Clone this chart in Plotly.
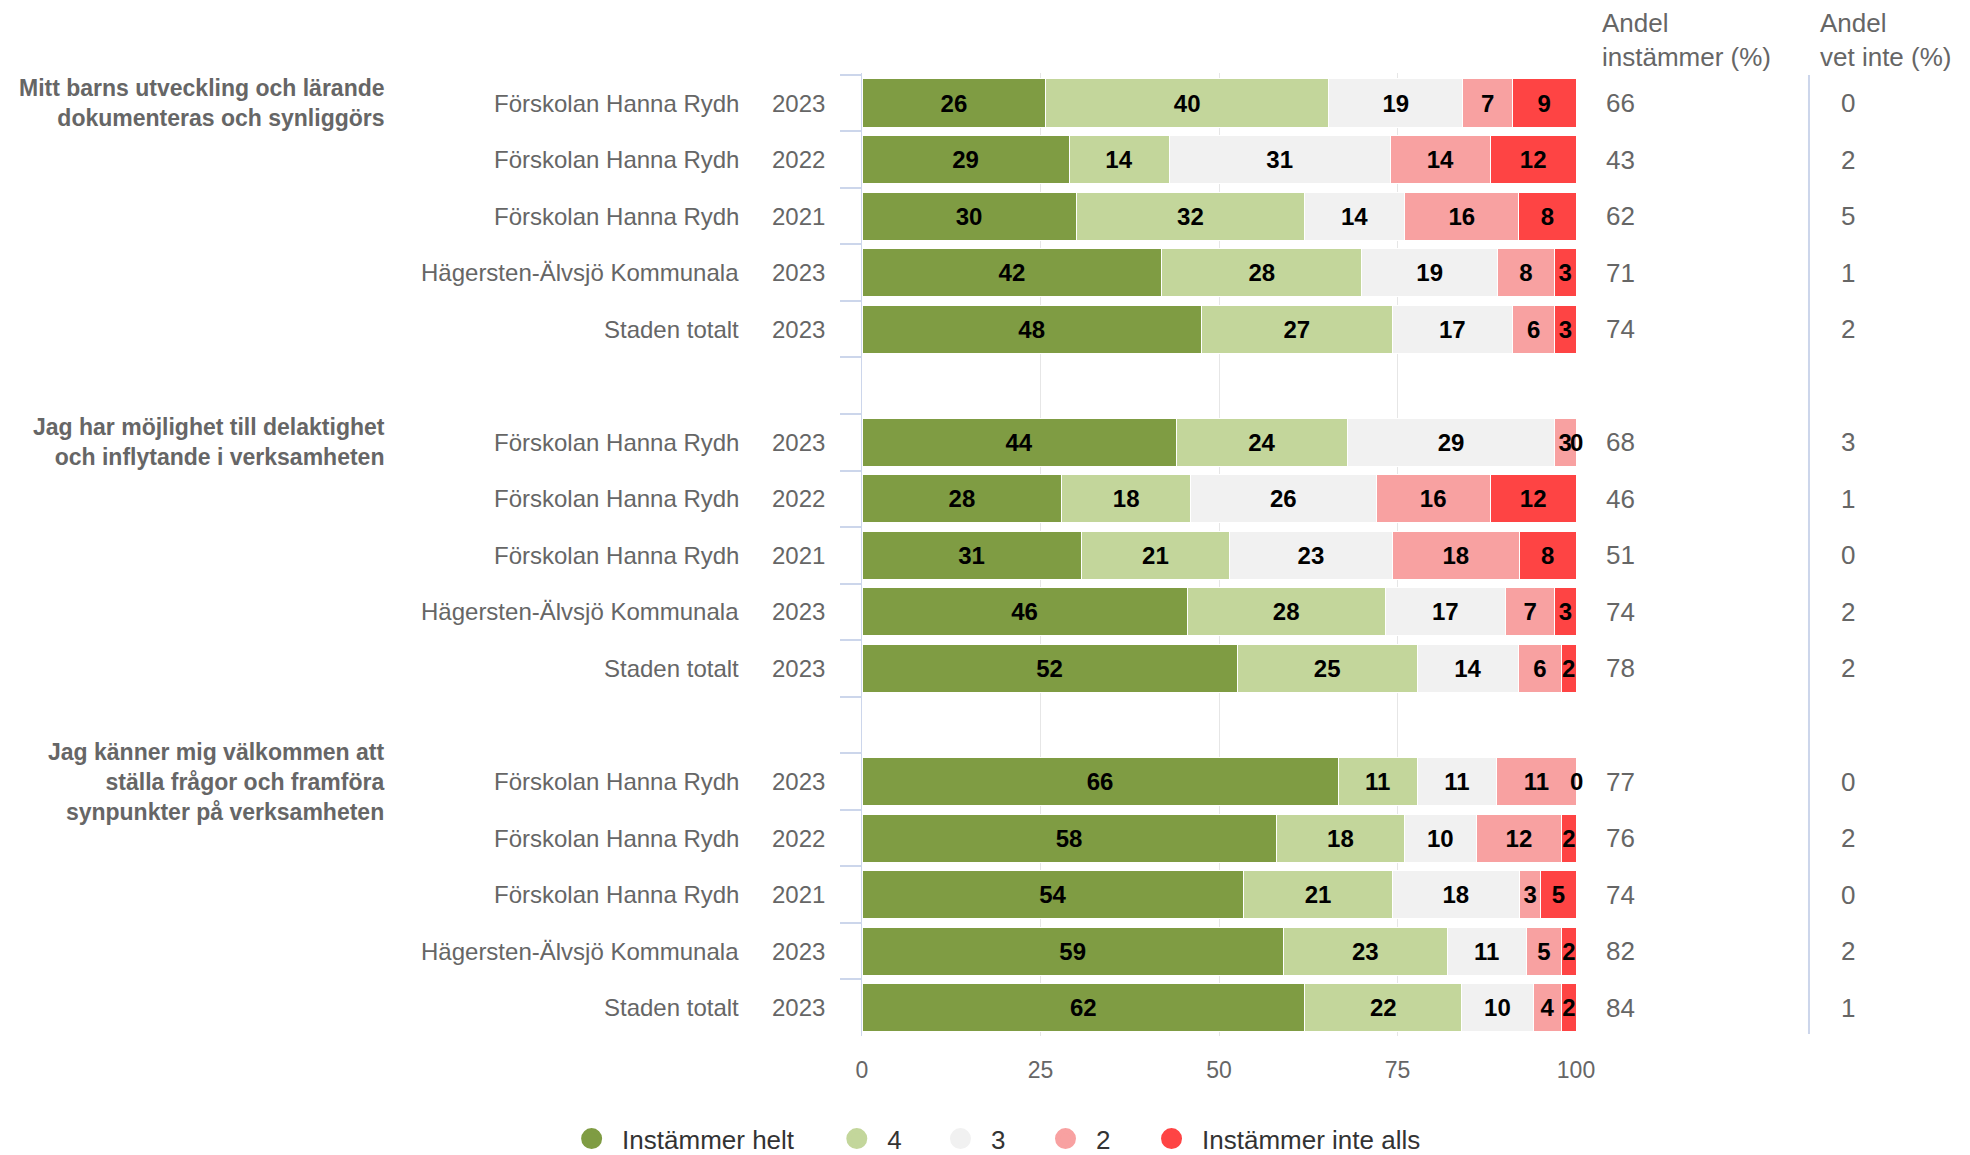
import plotly.graph_objects as go

# survey questions (group labels) and the rows under each question
questions = [
    "Mitt barns utveckling och lärande<br>dokumenteras och synliggörs",
    "Jag har möjlighet till delaktighet<br>och inflytande i verksamheten",
    "Jag känner mig välkommen att<br>ställa frågor och framföra<br>synpunkter på verksamheten",
]
units = [
    "Förskolan Hanna Rydh",
    "Förskolan Hanna Rydh",
    "Förskolan Hanna Rydh",
    "Hägersten-Älvsjö Kommunala",
    "Staden totalt",
]
years = ["2023", "2022", "2021", "2023", "2023"]

# answer shares (%) per row, question by question
helt = [26, 29, 30, 42, 48, 44, 28, 31, 46, 52, 66, 58, 54, 59, 62]
fyra = [40, 14, 32, 28, 27, 24, 18, 21, 28, 25, 11, 18, 21, 23, 22]
tre = [19, 31, 14, 19, 17, 29, 26, 23, 17, 14, 11, 10, 18, 11, 10]
tva = [7, 14, 16, 8, 6, 3, 16, 18, 7, 6, 11, 12, 3, 5, 4]
inte_alls = [9, 12, 8, 3, 3, 0, 12, 8, 3, 2, 0, 2, 5, 2, 2]

andel_instammer = [66, 43, 62, 71, 74, 68, 46, 51, 74, 78, 77, 76, 74, 82, 84]
andel_vet_inte = [0, 2, 5, 1, 2, 3, 1, 0, 2, 2, 0, 2, 0, 2, 1]

series = [
    ("Instämmer helt", helt, "#7f9c43"),
    ("4", fyra, "#c3d69b"),
    ("3", tre, "#f1f1f1"),
    ("2", tva, "#f8a1a1"),
    ("Instämmer inte alls", inte_alls, "#fe4444"),
]

FONT = "Liberation Sans, Arial, sans-serif"
GREY = "#666666"

# category keys, with an empty row between the questions
row_keys = []
for q in range(len(questions)):
    for r in range(len(units)):
        row_keys.append(f"q{q}r{r}")
    if q < len(questions) - 1:
        row_keys.append(f"gap{q}")


def spread(values):
    # put values on the row keys, blank for the gap rows
    lookup = {f"q{i // 5}r{i % 5}": v for i, v in enumerate(values)}
    return [lookup.get(k) for k in row_keys]


fig = go.Figure()

for name, values, color in series:
    xs = spread(values)
    fig.add_trace(
        go.Bar(
            x=xs,
            y=row_keys,
            orientation="h",
            name=name,
            legendgroup=name,
            marker={"color": color, "line": {"color": "white", "width": 1}},
            text=["" if v is None else str(v) for v in xs],
            textposition="inside",
            insidetextanchor="middle",
            constraintext="none",
            textangle=0,
            textfont={"family": FONT, "size": 24, "color": "black", "weight": "bold"},
            showlegend=False,
            hovertemplate=name + ": %{text}<extra></extra>",
        )
    )

# legend entries with round symbols, one small legend per entry so the
# spacing between them can follow the original
legend_ids = ["legend", "legend2", "legend3", "legend4", "legend5"]
legend_x = [-0.4214, -0.050, 0.0952, 0.2423, 0.3908]
for (name, values, color), lid in zip(series, legend_ids):
    fig.add_trace(
        go.Scatter(
            x=[None],
            y=[None],
            mode="markers",
            name=name,
            legendgroup=name,
            legend=lid,
            marker={"color": color, "size": 22, "symbol": "circle",
                    "line": {"color": color, "width": 5}},
            showlegend=True,
        )
    )

annotations = []
for i in range(len(helt)):
    key = f"q{i // 5}r{i % 5}"
    annotations.append(
        dict(x=-0.1695, y=key, xref="paper", yref="y", text=units[i % 5],
             xanchor="right", yanchor="middle", showarrow=False,
             font={"family": FONT, "size": 24, "color": GREY})
    )
    annotations.append(
        dict(x=-0.049, y=key, xref="paper", yref="y", text=years[i % 5],
             xanchor="right", yanchor="middle", showarrow=False,
             font={"family": FONT, "size": 24, "color": GREY})
    )
    annotations.append(
        dict(x=1.063, y=key, xref="paper", yref="y", text=str(andel_instammer[i]),
             xanchor="center", yanchor="middle", showarrow=False,
             font={"family": FONT, "size": 26, "color": GREY})
    )
    annotations.append(
        dict(x=1.381, y=key, xref="paper", yref="y", text=str(andel_vet_inte[i]),
             xanchor="center", yanchor="middle", showarrow=False,
             font={"family": FONT, "size": 26, "color": GREY})
    )
    # zero-width segments still get their "0" label at the end of the bar
    if inte_alls[i] == 0:
        annotations.append(
            dict(x=100, y=key, xref="x", yref="y", text="<b>0</b>",
                 xanchor="center", yanchor="middle", showarrow=False,
                 font={"family": FONT, "size": 24, "color": "black"})
        )

for q, label in enumerate(questions):
    annotations.append(
        dict(x=-0.6653, y=f"q{q}r0", xref="paper", yref="y", text=f"<b>{label}</b>",
             xanchor="right", yanchor="middle", align="right", showarrow=False,
             font={"family": FONT, "size": 23, "color": GREY})
    )

for x, label in [(1.0336, "Andel<br>instämmer (%)"), (1.339, "Andel<br>vet inte (%)")]:
    annotations.append(
        dict(x=x, y=1.034, xref="paper", yref="paper", text=label,
             xanchor="left", yanchor="middle", align="left", showarrow=False,
             font={"family": FONT, "size": 26, "color": GREY})
    )

legend_layout = {}
for lid, lx in zip(legend_ids, legend_x):
    legend_layout[lid] = {
        "orientation": "h",
        "x": lx,
        "xanchor": "left",
        "y": -0.1066,
        "yanchor": "middle",
        "font": {"family": FONT, "size": 26, "color": "#333333"},
        "itemsizing": "trace",
        "itemwidth": 51,
        "bgcolor": "rgba(0,0,0,0)",
    }

# page body has an 8px margin, so the figure is 8px smaller on each side
fig.update_layout(
    barmode="stack",
    barnorm="percent",
    bargap=0.15,
    width=1962,
    height=1147,
    autosize=False,
    margin={"l": 854, "r": 394, "t": 65, "b": 119, "autoexpand": False},
    paper_bgcolor="white",
    plot_bgcolor="white",
    font={"family": FONT, "color": GREY},
    annotations=annotations,
    shapes=[
        dict(type="line", xref="paper", yref="paper", x0=1.3263, x1=1.3263,
             y0=0.002, y1=0.998, line={"color": "#ccd6eb", "width": 2})
    ],
    xaxis={
        "range": [0, 100],
        "tickvals": [0, 25, 50, 75, 100],
        "showgrid": True,
        "gridcolor": "#e6e6e6",
        "gridwidth": 1,
        "zeroline": False,
        "showline": False,
        "ticks": "",
        "ticklabelstandoff": 18,
        "tickfont": {"family": FONT, "size": 23, "color": GREY},
        "fixedrange": True,
    },
    yaxis={
        "type": "category",
        "categoryorder": "array",
        "categoryarray": row_keys,
        "autorange": "reversed",
        "showticklabels": False,
        "showgrid": False,
        "showline": True,
        "linecolor": "#ccd6eb",
        "linewidth": 1,
        "ticks": "outside",
        "tickson": "boundaries",
        "ticklen": 21,
        "tickwidth": 2,
        "tickcolor": "#ccd6eb",
        "fixedrange": True,
    },
    **legend_layout,
)

fig.write_html("out.html")
